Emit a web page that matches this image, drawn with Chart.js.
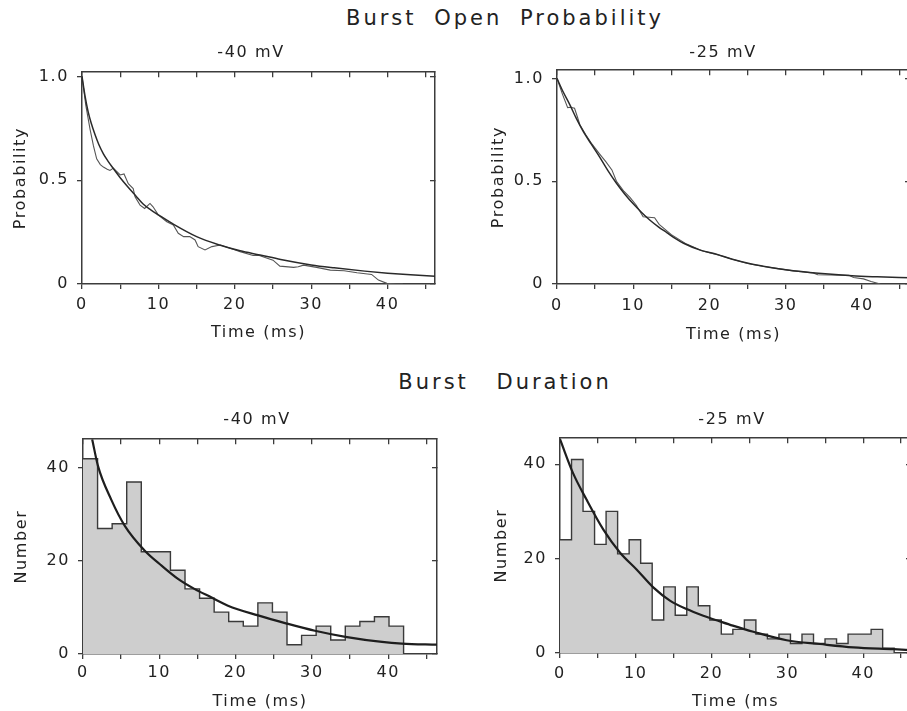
<!DOCTYPE html>
<html>
<head>
<meta charset="utf-8">
<script src="https://cdn.jsdelivr.net/npm/chart.js@4.4.0/dist/chart.umd.min.js"></script>
<style>
  html, body { margin: 0; padding: 0; background: #fff; }
  body { width: 907px; height: 711px; overflow: hidden; position: relative; font-family: "DejaVu Sans", sans-serif; color: #222; }
  .bigTitle { position: absolute; left: 255px; width: 500px; text-align: center; font-size: 21px; line-height: 24px; letter-spacing: 3px; word-spacing: 8px; }
  canvas { position: absolute; }
</style>
</head>
<body>
<div class="bigTitle" style="top:6px">Burst Open Probability</div>
<div class="bigTitle" style="top:370px;word-spacing:18px">Burst Duration</div>
<canvas id="prob40" width="502" height="315" style="left:0px;top:40px"></canvas>
<canvas id="prob25" width="496" height="315" style="left:475px;top:40px"></canvas>
<canvas id="dur40" width="514" height="316" style="left:0px;top:395px"></canvas>
<canvas id="dur25" width="514" height="316" style="left:475px;top:395px"></canvas>
<script>
// Burst open probability, -40 mV (fit and measured)
var fitTime40 = [0, 0.4, 0.8, 1.2, 1.7, 2.2, 2.8, 3.4, 4.1, 5.0, 5.9, 7.0, 8.0, 9.0, 10.0, 12.0, 15.0, 18.0, 20.7, 23.3, 26.0, 30.0, 33.0, 37.0, 40.0, 43.0, 46.2];
var fitProb40 = [1.0, 0.905, 0.83, 0.775, 0.72, 0.672, 0.627, 0.592, 0.556, 0.512, 0.472, 0.426, 0.385, 0.357, 0.333, 0.287, 0.228, 0.188, 0.16, 0.14, 0.118, 0.092, 0.078, 0.062, 0.052, 0.044, 0.037];
var dataTime40 = [0, 0.5, 1.05, 1.5, 1.92, 2.4, 2.8, 3.3, 3.66, 4.1, 4.6, 5.0, 5.5, 6.06, 6.7, 6.94, 7.6, 8.2, 8.9, 9.3, 10.0, 11.1, 11.95, 12.6, 13.3, 14.1, 14.8, 15.2, 16.1, 17.0, 18.1, 19.4, 20.7, 22.4, 23.2, 25.0, 25.9, 27.7, 28.3, 29.0, 30.7, 32.5, 34.3, 36.0, 37.9, 38.8, 39.9, 41.2, 42.0];
var dataProb40 = [1.0, 0.86, 0.746, 0.665, 0.603, 0.575, 0.563, 0.553, 0.547, 0.558, 0.54, 0.525, 0.53, 0.483, 0.46, 0.42, 0.38, 0.364, 0.388, 0.372, 0.332, 0.30, 0.284, 0.244, 0.228, 0.228, 0.212, 0.18, 0.164, 0.18, 0.188, 0.172, 0.156, 0.137, 0.137, 0.115, 0.086, 0.08, 0.083, 0.091, 0.08, 0.067, 0.064, 0.054, 0.046, 0.019, 0.003, 0, 0];

// Burst open probability, -25 mV
var fitTime25 = [0, 0.8, 1.66, 2.5, 3.4, 4.5, 5.6, 6.7, 7.8, 8.9, 10.0, 11.1, 12.2, 13.3, 14.4, 15.5, 16.6, 18.7, 21.0, 23.0, 25.5, 28.0, 30.0, 34.3, 38.7, 42.0, 46.3];
var fitProb25 = [1.0, 0.935, 0.874, 0.808, 0.745, 0.68, 0.617, 0.55, 0.49, 0.437, 0.39, 0.348, 0.31, 0.278, 0.25, 0.222, 0.198, 0.166, 0.144, 0.12, 0.097, 0.08, 0.069, 0.052, 0.04, 0.035, 0.03];
var dataTime25 = [0, 0.7, 1.4, 1.8, 2.3, 2.7, 3.0, 3.8, 4.6, 5.6, 6.4, 7.2, 7.8, 8.8, 9.6, 10.4, 11.0, 11.3, 12.8, 13.4, 15.0, 17.0, 19.0, 21.0, 23.0, 25.0, 27.0, 29.0, 31.0, 33.6, 34.2, 35.8, 38.3, 38.9, 40.2, 41.2, 42.4];
var dataProb25 = [1.0, 0.925, 0.858, 0.86, 0.855, 0.81, 0.775, 0.725, 0.68, 0.632, 0.595, 0.555, 0.5, 0.45, 0.42, 0.383, 0.345, 0.327, 0.322, 0.29, 0.24, 0.194, 0.162, 0.143, 0.12, 0.1, 0.086, 0.075, 0.064, 0.054, 0.045, 0.044, 0.042, 0.032, 0.025, 0.012, 0];

// Burst duration histograms (counts per bin) and fitted curves
var binWidth40 = 1.91;
var counts40 = [42, 27, 28, 37, 22, 22, 18, 14, 12, 9, 7, 6, 11, 9, 2, 4, 6, 3, 6, 7, 8, 6];
var durFitTime40 = [1.2, 1.97, 3.7, 5.5, 8.1, 10.3, 12.5, 14.6, 16.8, 19.0, 22.95, 26.6, 30.4, 34.4, 39.2, 41.8, 46.4];
var durFitNum40 = [46.2, 40.4, 33.2, 27.5, 22.2, 19.0, 16.1, 14.0, 12.2, 10.4, 8.3, 6.6, 5.0, 3.7, 2.6, 2.25, 2.0];

var binWidth25 = 1.52;
var counts25 = [24, 41, 30, 23, 30, 21, 24, 19, 7, 14, 8, 14, 10, 7, 4, 5, 7, 4, 3, 4, 2, 4, 2, 3, 2, 4, 4, 5, 1];
var durFitTime25 = [0, 1.72, 3.5, 5.7, 7.9, 10.1, 12.3, 14.5, 16.7, 18.9, 21.1, 22.8, 25.5, 29.9, 34.3, 38.7, 44.0, 46.4];
var durFitNum25 = [45.3, 38.1, 32.5, 26.2, 21.3, 17.7, 13.9, 11.1, 9.3, 7.9, 6.7, 5.8, 4.5, 2.7, 1.9, 1.2, 0.8, 0.6];

var ink = '#3c3c3c';
var textColor = '#222';
var fontName = '"DejaVu Sans", sans-serif';

// wider letter spacing, like the hand lettering of the original
var spacing = {
    id: 'spacing',
    beforeDraw: function(chart){
        chart.ctx.letterSpacing = '1.6px';
    }
};

function pairs(xs, ys){
    return xs.map(function(x, i){ return {x: x, y: ys[i]}; });
}

function histogramSteps(counts, width){
    var pts = counts.map(function(c, i){ return {x: i * width, y: c}; });
    pts.push({x: counts.length * width, y: 0});
    return pts;
}

function fmtProb(v){
    return v === 0 ? '0' : v.toFixed(1);
}

function fmtNum(v){
    return String(v);
}

function makePanel(id, g, datasets){
    var font = {family: fontName, size: 16};
    new Chart(document.getElementById(id), {
        type: 'line',
        data: {datasets: datasets},
        plugins: [spacing],
        options: {
            responsive: false,
            animation: false,
            devicePixelRatio: 1,
            layout: {padding: 0},
            elements: {point: {radius: 0}},
            plugins: {
                legend: {display: false},
                tooltip: {enabled: false},
                title: {
                    display: true,
                    text: g.title,
                    color: textColor,
                    font: {family: fontName, size: 16, weight: 'normal'},
                    padding: {top: g.titleTop, bottom: g.titleBottom}
                }
            },
            scales: {
                x: {
                    type: 'linear', position: 'bottom', min: 0, max: g.xMax,
                    ticks: {
                        stepSize: 5, includeBounds: false, autoSkip: false, maxRotation: 0,
                        padding: g.xTickPad, color: textColor, font: font,
                        callback: function(v){ return v % 10 === 0 ? String(v) : ''; }
                    },
                    grid: {drawOnChartArea: false, tickLength: 5, color: ink, lineWidth: 1.3},
                    border: {color: ink, width: 1.5},
                    title: {display: true, text: g.xTitle, color: textColor, font: font, padding: {top: 0, bottom: g.xTitlePad}},
                    afterFit: function(s){ s.height = g.xHeight; }
                },
                x2: {
                    type: 'linear', position: 'top', min: 0, max: g.xMax,
                    ticks: {display: false, stepSize: 5, includeBounds: false, autoSkip: false},
                    grid: {drawOnChartArea: false, tickLength: -5, color: ink, lineWidth: 1.3},
                    border: {color: ink, width: 1.5},
                    afterFit: function(s){ s.height = 0; }
                },
                y: {
                    type: 'linear', position: 'left', min: 0, max: g.yMax,
                    ticks: {
                        stepSize: g.yStep, includeBounds: false, padding: 8,
                        color: textColor, font: font, callback: g.yFmt
                    },
                    grid: {drawOnChartArea: false, tickLength: 5, color: ink, lineWidth: 1.3},
                    border: {color: ink, width: 1.5},
                    title: {display: true, text: g.yTitle, color: textColor, font: font, padding: {top: g.yTitlePad, bottom: 0}},
                    afterFit: function(s){ s.width = g.yWidth; }
                },
                y2: {
                    type: 'linear', position: 'right', min: 0, max: g.yMax,
                    ticks: {display: false, stepSize: g.yStep, includeBounds: false},
                    grid: {drawOnChartArea: false, tickLength: -5, color: ink, lineWidth: 1.3},
                    border: {color: ink, width: 1.5},
                    afterFit: function(s){ s.width = g.y2Width; }
                }
            }
        }
    });
}

function probDatasets(fitT, fitP, dataT, dataP){
    return [
        {data: pairs(fitT, fitP), borderColor: '#2a2a2a', borderWidth: 1.5, cubicInterpolationMode: 'monotone', fill: false},
        {data: pairs(dataT, dataP), borderColor: '#555', borderWidth: 1.1, tension: 0, fill: false}
    ];
}

function durDatasets(counts, width, fitT, fitN){
    return [
        {data: pairs(fitT, fitN), borderColor: '#1e1e1e', borderWidth: 2.2, cubicInterpolationMode: 'monotone', fill: false},
        {data: histogramSteps(counts, width), stepped: 'before', borderColor: '#3a3a3a', borderWidth: 1.4,
         backgroundColor: 'rgb(206,206,206)', fill: 'origin'}
    ];
}

makePanel('prob40', {
    title: '-40 mV', titleTop: 3, titleBottom: 10,
    xMax: 46.2, yMax: 1.02, yStep: 0.5, yFmt: fmtProb,
    xTitle: 'Time (ms)', yTitle: 'Probability',
    yWidth: 82, y2Width: 67, xHeight: 71, xTickPad: 6, xTitlePad: 13, yTitlePad: 11
}, probDatasets(fitTime40, fitProb40, dataTime40, dataProb40));

makePanel('prob25', {
    title: '-25 mV', titleTop: 3, titleBottom: 8,
    xMax: 46.3, yMax: 1.04, yStep: 0.5, yFmt: fmtProb,
    xTitle: 'Time (ms)', yTitle: 'Probability',
    yWidth: 82, y2Width: 61, xHeight: 71, xTickPad: 7, xTitlePad: 11, yTitlePad: 14
}, probDatasets(fitTime25, fitProb25, dataTime25, dataProb25));

makePanel('dur40', {
    title: '-40 mV', titleTop: 15, titleBottom: 10,
    xMax: 46.4, yMax: 46.2, yStep: 20, yFmt: fmtNum,
    xTitle: 'Time (ms)', yTitle: 'Number',
    yWidth: 83, y2Width: 77, xHeight: 57, xTickPad: 4, xTitlePad: 0, yTitlePad: 12
}, durDatasets(counts40, binWidth40, durFitTime40, durFitNum40));

makePanel('dur25', {
    title: '-25 mV', titleTop: 15, titleBottom: 9,
    xMax: 46.3, yMax: 45.5, yStep: 20, yFmt: fmtNum,
    xTitle: 'Time (ms', yTitle: 'Number',
    yWidth: 85, y2Width: 78, xHeight: 58, xTickPad: 6, xTitlePad: 0, yTitlePad: 17
}, durDatasets(counts25, binWidth25, durFitTime25, durFitNum25));
</script>
</body>
</html>
